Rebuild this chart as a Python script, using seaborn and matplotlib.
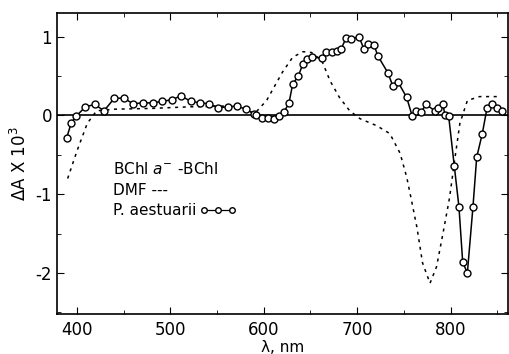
import matplotlib
matplotlib.use("Agg")
import matplotlib.pyplot as plt
import numpy as np
import seaborn as sns
from matplotlib.lines import Line2D
from matplotlib.ticker import MultipleLocator

# P. aestuarii difference spectrum (open circles)
pa_nm = [389, 394, 399, 409, 419, 429, 440, 450, 460, 471, 481, 491, 502, 511, 522,
         532, 541, 551, 562, 571, 581, 590, 592, 598, 604, 611, 616, 622, 627, 631,
         637, 642, 646, 652, 662, 667, 673, 678, 683, 688, 693, 702, 707, 712, 718,
         722, 733, 738, 744, 753, 759, 763, 768, 774, 783, 787, 792, 794, 798, 804,
         809, 813, 818, 824, 828, 834, 839, 844, 850, 855]
pa_dA = [-0.28, -0.09, -0.01, 0.11, 0.14, 0.06, 0.22, 0.22, 0.15, 0.16, 0.16, 0.18, 0.20, 0.25, 0.18,
         0.16, 0.15, 0.10, 0.11, 0.12, 0.08, 0.02, 0.01, -0.03, -0.03, -0.04, -0.01, 0.05, 0.16, 0.40,
         0.50, 0.66, 0.72, 0.74, 0.73, 0.81, 0.80, 0.82, 0.85, 0.98, 0.97, 1.00, 0.85, 0.91, 0.90,
         0.76, 0.54, 0.38, 0.42, 0.23, -0.01, 0.06, 0.04, 0.14, 0.06, 0.10, 0.14, 0.00, -0.01, -0.64,
         -1.16, -1.86, -2.00, -1.16, -0.53, -0.23, 0.09, 0.14, 0.09, 0.06]

# BChl a- minus BChl in DMF (dotted)
dmf_nm = [390, 400, 411, 421, 440, 480, 520, 560, 580, 590, 596, 603, 611, 620, 631,
          642, 651, 662, 671, 681, 692, 703, 721, 735, 746, 753, 756, 764, 770, 778,
          785, 792, 799, 804, 810, 818, 831, 850]
dmf_dA = [-0.80, -0.45, -0.10, 0.06, 0.08, 0.09, 0.11, 0.12, 0.08, 0.02, 0.10, 0.19, 0.36, 0.55, 0.74,
          0.81, 0.80, 0.70, 0.44, 0.23, 0.06, -0.04, -0.13, -0.23, -0.48, -0.78, -0.95, -1.42, -1.87, -2.13,
          -1.92, -1.49, -1.04, -0.60, -0.10, 0.19, 0.24, 0.24]

sns.set_style("ticks")
plt.rcParams['font.family'] = ['DejaVu Sans']
plt.rcParams['text.color'] = 'black'
plt.rcParams['axes.labelcolor'] = 'black'
plt.rcParams['xtick.color'] = 'black'
plt.rcParams['ytick.color'] = 'black'

fig = plt.figure(figsize=(5.09, 3.54), dpi=100)
ax = fig.add_axes([0.112, 0.113, 0.886, 0.85])

ax.axhline(0, color="black", lw=1.2)
sns.lineplot(x=dmf_nm, y=dmf_dA, ax=ax, sort=False, estimator=None,
             color="black", lw=1.1, linestyle=(0, (2, 3)))
sns.lineplot(x=pa_nm, y=pa_dA, ax=ax, sort=False, estimator=None,
             color="black", lw=1.1, marker="o", markersize=5,
             markerfacecolor="white", markeredgecolor="black", markeredgewidth=1.0)

ax.set_xlim(378.6, 861.5)
ax.set_ylim(-2.52, 1.3)
ax.xaxis.set_major_locator(MultipleLocator(100))
ax.xaxis.set_minor_locator(MultipleLocator(50))
ax.yaxis.set_minor_locator(MultipleLocator(0.5))
ax.set_yticks([1, 0, -1, -2])
ax.set_yticklabels(["1", "0", "-1", "-2"])
ax.tick_params(which="both", direction="in", top=True, right=True, labelsize=12)
ax.tick_params(which="major", length=5)
ax.tick_params(which="minor", length=3)
ax.tick_params(axis="x", pad=5)
for s in ax.spines.values():
    s.set_linewidth(1.2)
    s.set_color("black")

ax.set_xlabel("λ, nm", fontsize=11, labelpad=1)
ax.set_ylabel("ΔA X 10$^3$", fontsize=12, labelpad=4)

ax.text(0.124, 0.482, "BChl $a^{-}$ -BChl", transform=ax.transAxes, fontsize=11, va="center")
ax.text(0.124, 0.412, "DMF ---", transform=ax.transAxes, fontsize=11, va="center")
ax.text(0.124, 0.345, "P. aestuarii", transform=ax.transAxes, fontsize=11, va="center")
ax.add_line(Line2D([0.325, 0.389], [0.345, 0.345], transform=ax.transAxes, color="black",
                   lw=0.9, marker="o", markersize=4, markevery=[0, 1], markerfacecolor="white"))
ax.add_line(Line2D([0.357], [0.345], transform=ax.transAxes, color="black",
                   lw=0, marker="o", markersize=4, markerfacecolor="white"))

fig.savefig("out.png", dpi=100)
